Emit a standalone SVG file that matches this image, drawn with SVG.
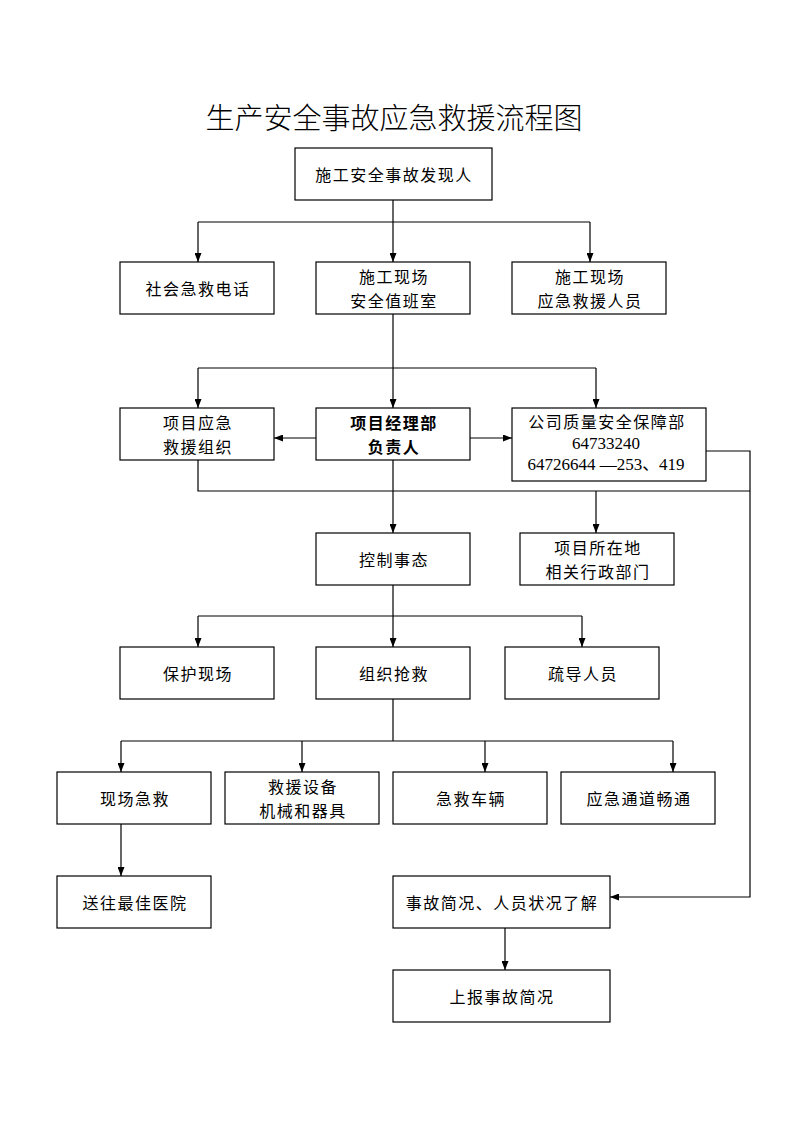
<svg xmlns="http://www.w3.org/2000/svg" width="794" height="1123" viewBox="0 0 794 1123">
<style>
.box{fill:#fff;stroke:#000;stroke-width:1.2}
.t{font-family:"Noto Sans CJK SC","Liberation Sans",sans-serif;font-size:16px;letter-spacing:1.5px;fill:#000;text-anchor:middle;dominant-baseline:central}
.b{font-weight:bold}
.n{font-family:"Liberation Serif","Noto Sans CJK SC",serif;font-size:17px;letter-spacing:0}
.title{font-family:"Noto Sans CJK SC",sans-serif;font-size:29px;font-weight:300;fill:#000;text-anchor:middle}
.c path{fill:none;stroke:#000;stroke-width:1.2}
</style>
<defs>
<marker id="ah" viewBox="0 0 10 10" refX="10" refY="5" markerWidth="9" markerHeight="7" markerUnits="userSpaceOnUse" orient="auto" preserveAspectRatio="none">
<path d="M0,0 L10,5 L0,10 z" fill="#000"/>
</marker>
</defs>
<rect width="794" height="1123" fill="#fff"/>
<text class="title" x="394" y="129">生产安全事故应急救援流程图</text>

<g class="c">
<path d="M393,200 V222"/>
<path d="M198,222 H590"/>
<path d="M198,222 V262" marker-end="url(#ah)"/>
<path d="M393,222 V262" marker-end="url(#ah)"/>
<path d="M590,222 V262" marker-end="url(#ah)"/>
<path d="M393,314 V368"/>
<path d="M198,368 H596"/>
<path d="M198,368 V408" marker-end="url(#ah)"/>
<path d="M393,368 V408" marker-end="url(#ah)"/>
<path d="M596,368 V408" marker-end="url(#ah)"/>
<path d="M316,438 H274" marker-end="url(#ah)"/>
<path d="M470,438 H512" marker-end="url(#ah)"/>
<path d="M198,460 V491 H750"/>
<path d="M706,451 H750 V897 H610" marker-end="url(#ah)"/>
<path d="M596,491 V533" marker-end="url(#ah)"/>
<path d="M393,460 V533" marker-end="url(#ah)"/>
<path d="M393,585 V616"/>
<path d="M198,616 H582"/>
<path d="M198,616 V647" marker-end="url(#ah)"/>
<path d="M393,616 V647" marker-end="url(#ah)"/>
<path d="M582,616 V647" marker-end="url(#ah)"/>
<path d="M393,699 V741"/>
<path d="M121,741 H673"/>
<path d="M121,741 V772" marker-end="url(#ah)"/>
<path d="M302,741 V772" marker-end="url(#ah)"/>
<path d="M485,741 V772" marker-end="url(#ah)"/>
<path d="M673,741 V772" marker-end="url(#ah)"/>
<path d="M121,824 V876" marker-end="url(#ah)"/>
<path d="M505,928 V970" marker-end="url(#ah)"/>
</g>

<g id="n1"><rect class="box" x="295" y="148" width="197" height="52"/><text class="t" x="394" y="174">施工安全事故发现人</text></g>
<g id="n2"><rect class="box" x="120" y="262" width="154" height="52"/><text class="t" x="198" y="288">社会急救电话</text></g>
<g id="n3"><rect class="box" x="316" y="262" width="154" height="52"/><text class="t" x="394" y="276">施工现场</text><text class="t" x="394" y="299.5">安全值班室</text></g>
<g id="n4"><rect class="box" x="512" y="262" width="154" height="52"/><text class="t" x="590" y="276">施工现场</text><text class="t" x="590" y="299.5">应急救援人员</text></g>
<g id="n5"><rect class="box" x="120" y="408" width="154" height="52"/><text class="t" x="198" y="422">项目应急</text><text class="t" x="198" y="445.5">救援组织</text></g>
<g id="n6"><rect class="box" x="316" y="408" width="154" height="52"/><text class="t b" x="394" y="422">项目经理部</text><text class="t b" x="394" y="445.5">负责人</text></g>
<g id="n7"><rect class="box" x="512" y="408" width="194" height="73"/><text class="t" x="607" y="421">公司质量安全保障部</text><text class="t n" x="606" y="443">64733240</text><text class="t n" x="606" y="464">64726644 —253、419</text></g>
<g id="n8"><rect class="box" x="316" y="533" width="154" height="52"/><text class="t" x="394" y="559">控制事态</text></g>
<g id="n9"><rect class="box" x="520" y="533" width="154" height="52"/><text class="t" x="598" y="547">项目所在地</text><text class="t" x="598" y="570.5">相关行政部门</text></g>
<g id="n10"><rect class="box" x="120" y="647" width="154" height="52"/><text class="t" x="198" y="673">保护现场</text></g>
<g id="n11"><rect class="box" x="316" y="647" width="154" height="52"/><text class="t" x="394" y="673">组织抢救</text></g>
<g id="n12"><rect class="box" x="505" y="647" width="154" height="52"/><text class="t" x="583" y="673">疏导人员</text></g>
<g id="n13"><rect class="box" x="57" y="772" width="154" height="52"/><text class="t" x="135" y="798">现场急救</text></g>
<g id="n14"><rect class="box" x="225" y="772" width="154" height="52"/><text class="t" x="303" y="786">救援设备</text><text class="t" x="303" y="809.5">机械和器具</text></g>
<g id="n15"><rect class="box" x="393" y="772" width="154" height="52"/><text class="t" x="471" y="798">急救车辆</text></g>
<g id="n16"><rect class="box" x="561" y="772" width="154" height="52"/><text class="t" x="639" y="798">应急通道畅通</text></g>
<g id="n17"><rect class="box" x="57" y="876" width="154" height="52"/><text class="t" x="135" y="902">送往最佳医院</text></g>
<g id="n18"><rect class="box" x="393" y="876" width="217" height="52"/><text class="t" x="502" y="902">事故简况、人员状况了解</text></g>
<g id="n19"><rect class="box" x="393" y="970" width="217" height="52"/><text class="t" x="502" y="996">上报事故简况</text></g>
</svg>
